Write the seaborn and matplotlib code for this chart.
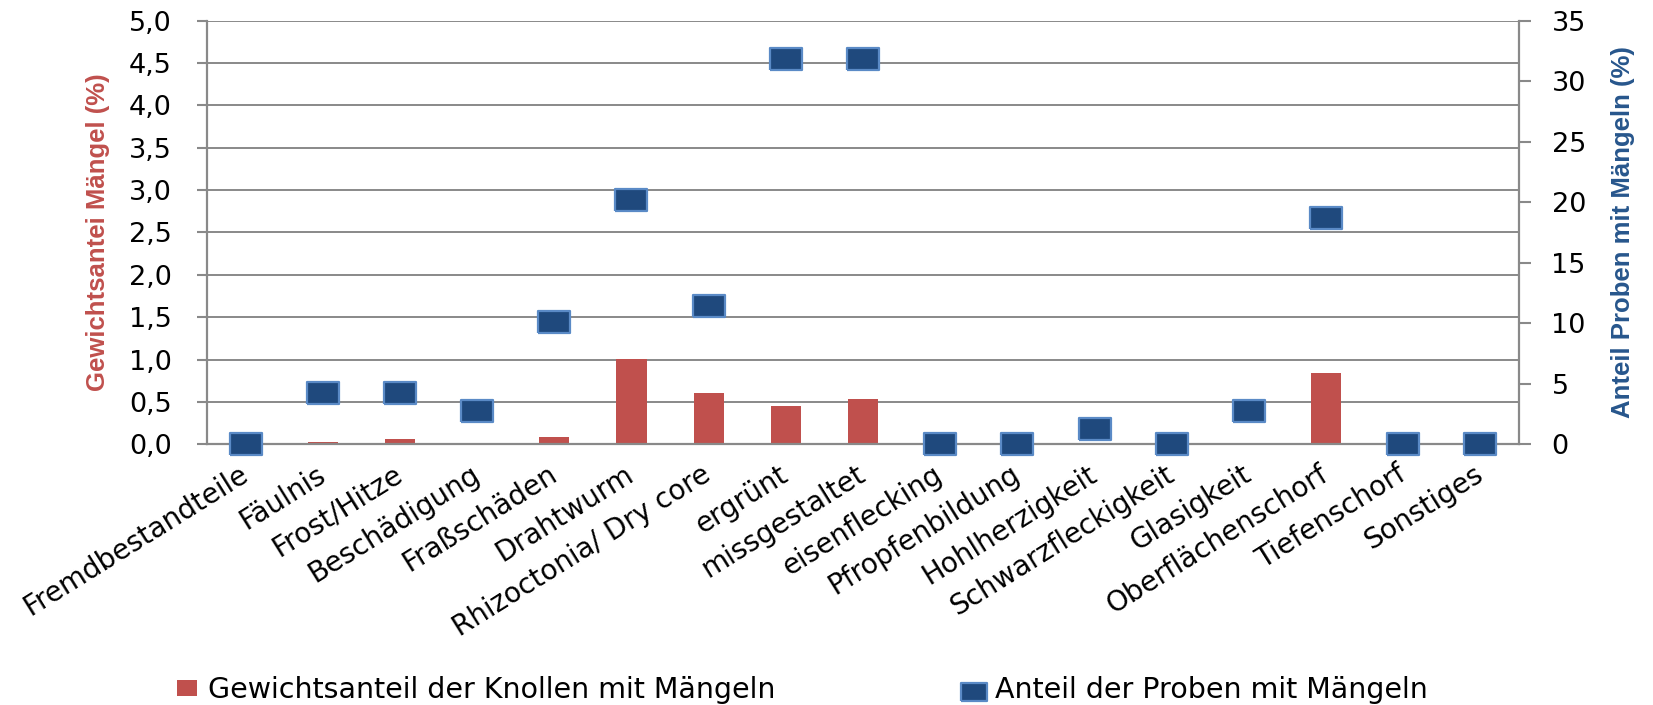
import numpy as np
import pandas as pd
import matplotlib
matplotlib.use("Agg")
import matplotlib.pyplot as plt
import seaborn as sns
from matplotlib.markers import MarkerStyle

# ---------------- data ----------------
categories = ["Fremdbestandteile", "Fäulnis", "Frost/Hitze", "Beschädigung", "Fraßschäden",
              "Drahtwurm", "Rhizoctonia/ Dry core", "ergrünt", "missgestaltet", "eisenflecking",
              "Pfropfenbildung", "Hohlherzigkeit", "Schwarzfleckigkeit", "Glasigkeit",
              "Oberflächenschorf", "Tiefenschorf", "Sonstiges"]
gewichtsanteil = [0.0, 0.03, 0.06, 0.0, 0.09, 1.01, 0.60, 0.45, 0.535, 0.0,
                  0.0, 0.0, 0.0, 0.0, 0.84, 0.0, 0.0]
proben_anteil = [0.0, 4.2, 4.2, 2.75, 10.1, 20.2, 11.45, 31.85, 31.85, 0.0,
                 0.0, 1.26, 0.0, 2.75, 18.7, 0.0, 0.0]
left_ticks = [0.0, 0.5, 1.0, 1.5, 2.0, 2.5, 3.0, 3.5, 4.0, 4.5, 5.0]
right_ticks = [0, 5, 10, 15, 20, 25, 30, 35]
label_bar = "Gewichtsanteil der Knollen mit Mängeln"
label_pts = "Anteil der Proben mit Mängeln"
ylabel_left = "Gewichtsantei Mängel (%)"
ylabel_right = "Anteil Proben mit Mängeln (%)"

df = pd.DataFrame({"Mangel": categories,
                   "Gewicht": gewichtsanteil,
                   "Proben": proben_anteil,
                   "pos": np.arange(len(categories))})

# ---------------- style ----------------
sns.set_style("white")
plt.rcParams["font.family"] = ["DejaVu Sans"]
plt.rcParams["text.color"] = "black"
plt.rcParams["axes.labelcolor"] = "black"
plt.rcParams["xtick.color"] = "black"
plt.rcParams["ytick.color"] = "black"
GRAY = "#898989"
RED = "#C0504D"
BLUE = "#1F497D"
BLUE_EDGE = "#5A8AC6"
LABEL_FONT = ["Liberation Sans Narrow", "Liberation Sans", "DejaVu Sans"]

W, H = 1653, 705
fig = plt.figure(figsize=(W / 100, H / 100), dpi=100)
ax = fig.add_axes([207 / W, 1 - 444.3 / H, (1519 - 207) / W, (444.3 - 20.7) / H])
ax2 = ax.twinx()

# bars (left axis)
sns.barplot(data=df, x="Mangel", y="Gewicht", color=RED, saturation=1,
            width=0.39, linewidth=0, ax=ax, zorder=2)
# points (right axis)
rect = [(-1, -0.68), (1, -0.68), (1, 0.68), (-1, 0.68), (-1, -0.68)]
sns.scatterplot(data=df, x="pos", y="Proben", ax=ax2, marker=MarkerStyle(rect),
                s=23 ** 2, color=BLUE, edgecolor=BLUE_EDGE, linewidth=1.6,
                zorder=5, legend=False, clip_on=False)

n = len(categories)
ax.set_xlim(-0.5, n - 0.5)
ax.set_ylim(0, 5)
ax2.set_ylim(0, 35)

# left axis
ax.set_yticks(left_ticks)
ax.set_yticklabels([f"{v:.1f}".replace(".", ",") for v in left_ticks])
ax.tick_params(axis="y", length=7.2, width=1.5, color=GRAY, pad=18, labelsize=19.5,
               labelcolor="black")
ax.grid(axis="y", color=GRAY, linewidth=1.4)
ax.set_axisbelow(True)

# x axis: labels at centers, tick marks at boundaries
ax.set_xticks(np.arange(n))
ax.set_xticklabels(categories, rotation=32, ha="right", va="center",
                   rotation_mode="anchor", fontsize=20, color="black")
ax.tick_params(axis="x", which="major", length=0, pad=20)
ax.set_xticks(np.arange(-0.5, n, 1), minor=True)
ax.tick_params(axis="x", which="minor", length=6, width=1.5, color=GRAY, direction="out")
ax.set_xlabel("")

# right axis
ax2.set_yticks(right_ticks)
ax2.tick_params(axis="y", length=8.4, width=1.5, color=GRAY, pad=15, labelsize=19.5,
                labelcolor="black")
ax2.grid(False)
ax2.set_xlim(-0.5, n - 0.5)

for s in ["top", "right"]:
    ax.spines[s].set_visible(False)
for s in ["left", "bottom"]:
    ax.spines[s].set_color(GRAY)
    ax.spines[s].set_linewidth(1.6)
for s in ["top", "left", "bottom"]:
    ax2.spines[s].set_visible(False)
ax2.spines["right"].set_color(GRAY)
ax2.spines["right"].set_linewidth(1.6)

# axis titles
ax.set_ylabel(ylabel_left, color=RED, fontweight="bold", fontsize=18.5, family=LABEL_FONT)
ax.yaxis.set_label_coords(-0.074, 0.5)
ax2.set_ylabel(ylabel_right, color="#27568C", fontweight="bold", fontsize=18.5,
               family=LABEL_FONT)
ax2.yaxis.set_label_coords(1.0705, 0.5)

# legends
bars = ax.containers[0]
pts = ax2.collections[0]
leg_kw = dict(frameon=False, loc="center left", borderpad=0, borderaxespad=0,
              fontsize=20.5, handletextpad=0.4, handlelength=0.7, handleheight=0.45)
fig.legend([bars], [label_bar], bbox_to_anchor=(177 / W, 1 - 690 / H), **leg_kw)
fig.legend([pts], [label_pts], bbox_to_anchor=(964 / W, 1 - 690 / H),
           markerscale=0.8, **leg_kw)

fig.savefig("out.png", dpi=100)
